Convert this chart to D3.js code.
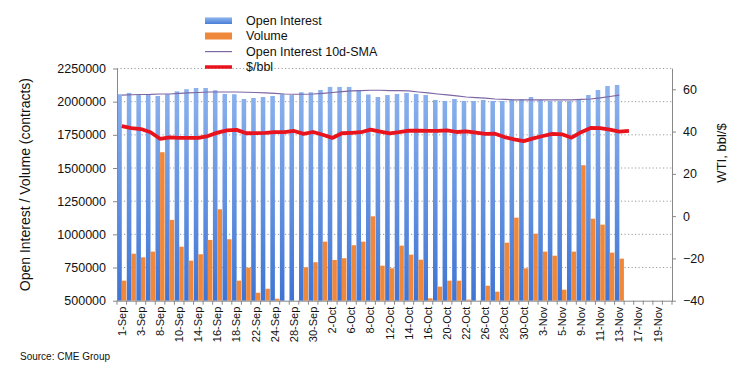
<!DOCTYPE html>
<html><head><meta charset="utf-8">
<script src="https://cdn.jsdelivr.net/npm/d3@7"></script>
<style>
body{margin:0;background:#fff;}
svg{display:block;font-family:"Liberation Sans",Arial,sans-serif;}
</style>
</head><body>
<svg id="c" width="746" height="378"></svg>
<script>
const categories = ["1-Sep","2-Sep","3-Sep","4-Sep","8-Sep","9-Sep","10-Sep","11-Sep","14-Sep","15-Sep","16-Sep","17-Sep","18-Sep","21-Sep","22-Sep","23-Sep","24-Sep","25-Sep","28-Sep","29-Sep","30-Sep",
"1-Oct","2-Oct","5-Oct","6-Oct","7-Oct","8-Oct","9-Oct","12-Oct","13-Oct","14-Oct","15-Oct","16-Oct","19-Oct","20-Oct","21-Oct","22-Oct","23-Oct","26-Oct","27-Oct","28-Oct","29-Oct","30-Oct",
"2-Nov","3-Nov","4-Nov","5-Nov","6-Nov","9-Nov","10-Nov","11-Nov","12-Nov","13-Nov","16-Nov","17-Nov","18-Nov","19-Nov","20-Nov"];
const xTickLabels = ["1-Sep","3-Sep","8-Sep","10-Sep","14-Sep","16-Sep","18-Sep","22-Sep","24-Sep","28-Sep","30-Sep","2-Oct","6-Oct","8-Oct","12-Oct","14-Oct","16-Oct","20-Oct","22-Oct","26-Oct","28-Oct","30-Oct","3-Nov","5-Nov","9-Nov","11-Nov","13-Nov","17-Nov","19-Nov"];
const openInterest = [2056000,2066000,2050000,2056000,2043000,2056000,2078000,2094000,2103000,2103000,
2086000,2058000,2056000,2020000,2028000,2035000,2043000,2056000,2050000,2071000,
2071000,2088000,2111000,2111000,2111000,2086000,2054000,2035000,2050000,2058000,
2066000,2058000,2050000,2013000,2005000,2020000,2005000,2005000,2013000,2005000,
2005000,2013000,2018000,2035000,2013000,2005000,2005000,2005000,2020000,2050000,
2088000,2118000,2126000];
const volume = [651000,854000,827000,870000,1619000,1109000,907000,802000,850000,958000,
1189000,963000,651000,749000,560000,590000,515000,null,null,752000,
790000,945000,807000,820000,918000,945000,1136000,764000,744000,915000,
847000,809000,518000,606000,651000,651000,508000,null,613000,568000,
937000,1126000,744000,1005000,870000,839000,583000,870000,1521000,1118000,
1073000,862000,817000];
const oiSMA10 = [2050000,2052000,2054000,2055000,2058000,2058000,2062000,2066000,2069000,2073000,
2073000,2073000,2073000,2071000,2069000,2066000,2062000,2058000,2056000,2056000,
2058000,2063000,2069000,2075000,2081000,2084000,2086000,2086000,2084000,2084000,
2081000,2073000,2066000,2058000,2051000,2043000,2035000,2030000,2026000,2020000,
2017000,2014000,2013000,2013000,2013000,2013000,2013000,2014000,2017000,2020000,
2028000,2039000,2050000];
const wtiPrice = [42.6,41.6,41.2,39.7,36.6,37.3,37.0,37.0,37.0,37.9,
39.5,40.6,40.8,39.2,39.3,39.4,39.7,39.7,40.3,38.9,
39.8,38.5,37.0,39.2,39.4,39.7,40.9,40.0,39.2,39.7,
40.4,40.4,40.3,40.3,40.6,39.8,40.1,39.5,38.9,39.0,
37.4,36.3,35.5,36.8,37.9,38.9,38.7,37.1,39.7,41.7,
41.6,40.9,40.0,40.3];
const leftTicks = [500000,750000,1000000,1250000,1500000,1750000,2000000,2250000];
const rightTicks = [-40,-20,0,20,40,60];
const legendItems = ["Open Interest","Volume","Open Interest 10d-SMA","$/bbl"];

const svg = d3.select("#c");
const L = 117, R = 672, T = 68.5, B = 300.7;

const x = d3.scaleBand().domain(categories).range([L, R]).padding(0);
const x1 = d3.scaleBand().domain(["oi","vol"]).range([0, x.bandwidth()]).paddingInner(0).paddingOuter(0.05);
const yL = d3.scaleLinear().domain([500000, 2250000]).range([B, T]);
const yR = d3.scaleLinear().domain([-40, 70]).range([B, B - 110 * (211.4/100)]);

const defs = svg.append("defs");
const g1 = defs.append("linearGradient").attr("id","blueG").attr("gradientUnits","userSpaceOnUse")
  .attr("x1",0).attr("x2",0).attr("y1",T).attr("y2",B);
g1.append("stop").attr("offset","0%").attr("stop-color","#93b8f0");
g1.append("stop").attr("offset","100%").attr("stop-color","#3e74d4");
const g2 = defs.append("linearGradient").attr("id","blueL").attr("x1",0).attr("x2",0).attr("y1",0).attr("y2",1);
g2.append("stop").attr("offset","0%").attr("stop-color","#8fb5ef");
g2.append("stop").attr("offset","100%").attr("stop-color","#4a7fd8");

// gridlines
svg.append("g").selectAll("line").data(leftTicks.filter(d => d > 500000)).join("line")
  .attr("x1", L).attr("x2", R).attr("y1", d => yL(d)).attr("y2", d => yL(d))
  .attr("stroke","#9a9a9a").attr("stroke-width",1).attr("stroke-dasharray","1.2,2.3");

// bars
const idx = d3.range(categories.length);
svg.append("g").selectAll("rect").data(openInterest.map((v,i)=>({c:categories[i],v})))
  .join("rect")
  .attr("x", d => x(d.c) + x1("oi")).attr("width", x1.bandwidth())
  .attr("y", d => yL(d.v)).attr("height", d => B - yL(d.v))
  .attr("fill","url(#blueG)");
svg.append("g").selectAll("rect").data(volume.map((v,i)=>({c:categories[i],v})).filter(d => d.v != null))
  .join("rect")
  .attr("x", d => x(d.c) + x1("vol")).attr("width", x1.bandwidth())
  .attr("y", d => yL(d.v)).attr("height", d => B - yL(d.v))
  .attr("fill","#f0883b");

// SMA line
const cx = c => x(c) + x.bandwidth()/2;
svg.append("path").datum(oiSMA10.map((v,i)=>({c:categories[i],v})))
  .attr("fill","none").attr("stroke","#7d66a4").attr("stroke-width",1.2)
  .attr("d", d3.line().x(d => cx(d.c)).y(d => yL(d.v)));
// price line
svg.append("path").datum(wtiPrice.map((v,i)=>({c:categories[i],v})))
  .attr("fill","none").attr("stroke","#e8131c").attr("stroke-width",3.8).attr("stroke-linejoin","round")
  .attr("d", d3.line().x(d => cx(d.c)).y(d => yR(d.v)));

// axes
const axL = svg.append("g").attr("transform",`translate(${L},0)`)
  .call(d3.axisLeft(yL).tickValues(leftTicks).tickFormat(d3.format("d")).tickSize(4).tickSizeOuter(0).tickPadding(7));
axL.selectAll("text").attr("font-size","12.5px").attr("fill","#111").attr("font-family","Liberation Sans, Arial, sans-serif");
axL.selectAll("line,path").attr("stroke","#888");

const axR = svg.append("g").attr("transform",`translate(${R},0)`)
  .call(d3.axisRight(yR).tickValues(rightTicks).tickSize(4).tickSizeOuter(0).tickPadding(7));
axR.selectAll("text").attr("font-size","12.5px").attr("fill","#111").attr("font-family","Liberation Sans, Arial, sans-serif");
axR.selectAll("line,path").attr("stroke","#888");

const axB = svg.append("g").attr("transform",`translate(0,${B})`)
  .call(d3.axisBottom(x).tickValues(xTickLabels).tickSize(0).tickSizeOuter(0));
axB.select("path").attr("stroke","#888");
axB.selectAll("text").attr("transform","rotate(-90)").attr("x",-6).attr("y",0).attr("dy","0.35em")
  .attr("text-anchor","end").attr("font-size","11px").attr("fill","#111").attr("font-family","Liberation Sans, Arial, sans-serif");
// category boundary tick marks
svg.append("g").selectAll("line").data(idx.concat([categories.length])).join("line")
  .attr("x1", i => L + i * x.step()).attr("x2", i => L + i * x.step())
  .attr("y1", B).attr("y2", B + 4).attr("stroke","#888");

// axis titles
svg.append("text").attr("transform",`translate(25,${(T+B)/2}) rotate(-90)`)
  .attr("text-anchor","middle").attr("dy","0.35em").attr("font-size","14px").attr("fill","#111")
  .text("Open Interest / Volume (contracts)");
svg.append("text").attr("transform",`translate(721,153) rotate(-90)`)
  .attr("text-anchor","middle").attr("dy","0.35em").attr("font-size","13px").attr("fill","#111")
  .text("WTI, bbl/$");

// legend
const lg = svg.append("g");
const ly = [20.7, 36.0, 51.6, 67.0];
lg.append("rect").attr("x",205).attr("y",ly[0]-3.3).attr("width",27).attr("height",6.6).attr("fill","url(#blueL)");
lg.append("rect").attr("x",205).attr("y",ly[1]-3.5).attr("width",27).attr("height",7).attr("fill","#f0883b");
lg.append("line").attr("x1",205).attr("x2",232).attr("y1",ly[2]).attr("y2",ly[2]).attr("stroke","#7d66a4").attr("stroke-width",1.2);
lg.append("line").attr("x1",205).attr("x2",232).attr("y1",ly[3]).attr("y2",ly[3]).attr("stroke","#e8131c").attr("stroke-width",3.5);
lg.selectAll("text").data(legendItems).join("text")
  .attr("x",246).attr("y",(d,i)=>ly[i]).attr("dy","0.35em").attr("font-size","12.5px").attr("fill","#111")
  .text(d=>d);

// source
svg.append("text").attr("x",20).attr("y",360).attr("font-size","10px").attr("fill","#111").text("Source: CME Group");
</script>
</body></html>
